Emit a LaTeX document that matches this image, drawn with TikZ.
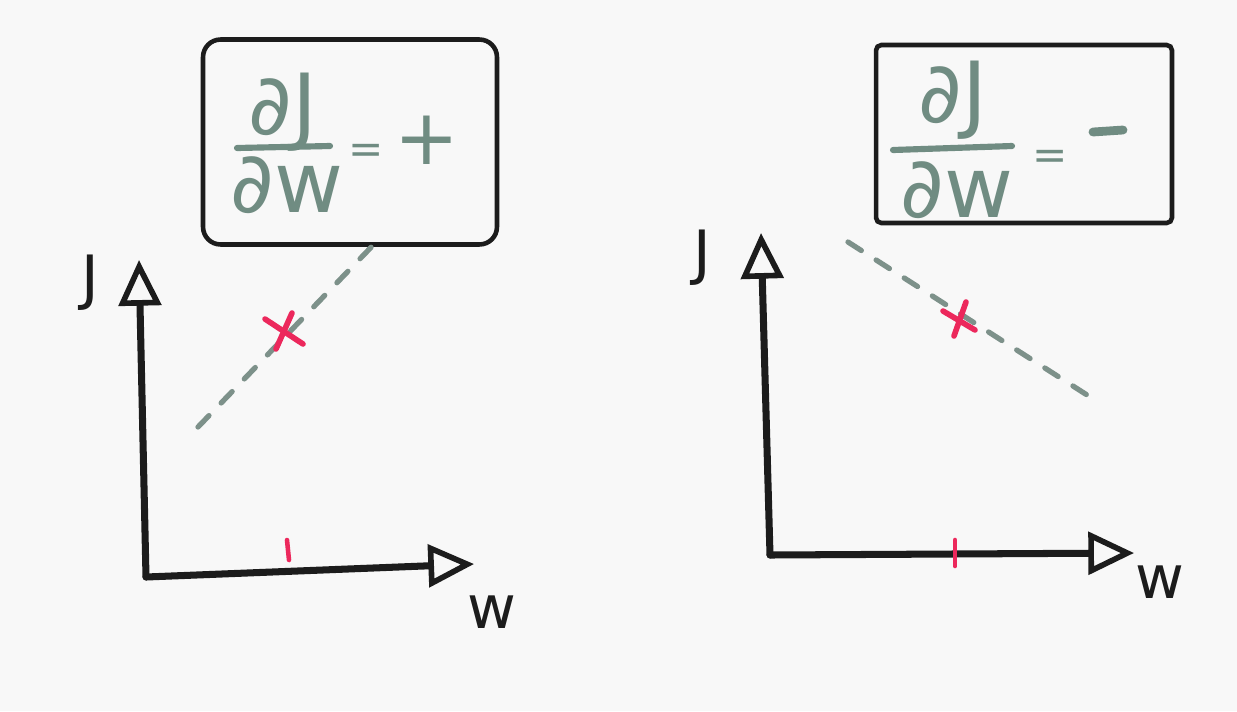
\documentclass[tikz,border=0pt]{standalone}
\usepackage{fontspec}
\setmainfont{DejaVu Sans}
\usetikzlibrary{arrows.meta,calc}
\definecolor{bgc}{RGB}{248,248,248}
\definecolor{ink}{RGB}{28,28,28}
\definecolor{sage}{RGB}{112,140,130}
\definecolor{dashc}{RGB}{125,145,138}
\definecolor{redc}{RGB}{236,40,92}
\tikzset{
  axis/.style={draw=ink, line width=4pt, line cap=round, line join=round,
    -{Triangle[open, length=26pt, width=24pt, line width=3.2pt]}},
  boxstyle/.style={draw=ink, line width=2.6pt, rounded corners=10pt, inner sep=0pt},
  formula/.style={text=sage, inner sep=0pt, font=\fontsize{48}{50}\selectfont},
  eqsign/.style={text=sage, inner sep=0pt, font=\fontsize{24}{26}\selectfont},
  signtxt/.style={text=sage, inner sep=0pt, font=\fontsize{44}{46}\selectfont},
  fracbar/.style={draw=sage, line width=3.5pt, line cap=round},
  axlabel/.style={text=ink, inner sep=0pt, font=\fontsize{34}{36}\selectfont},
  slope/.style={draw=dashc, line width=3pt, dash pattern=on 9pt off 10pt, line cap=round},
  redmark/.style={draw=redc, line width=3.2pt, line cap=round},
}
\begin{document}
\begin{tikzpicture}[x=0.02cm, y=-0.02cm]
\fill[bgc] (0,0) rectangle (1237,711);
\useasboundingbox (0,0) rectangle (1237,711);

% ---------------- left panel ----------------
\node[boxstyle, minimum width=5.88cm, minimum height=4.1cm] (boxL) at (350,142) {};
\node[formula] (numL) at (283,112) {∂J};
\node[formula] (denL) at (287,185) {∂w};
\coordinate (barLa) at (237,148);
\coordinate (barLb) at (330,146);
\draw[fracbar] (barLa) -- (barLb);
\node[eqsign] (eqL) at (366,154) {=};
\node[signtxt] (plusL) at (427,140) {+};

\coordinate (OL) at (146,577);
\coordinate (YL) at (139,260);
\coordinate (XL) at (474,564);
\draw[axis] (OL) -- (YL);
\draw[axis] (OL) -- (XL);
\node[axlabel] (JL) at (90,283) {J};
\node[axlabel] (WL) at (492,612) {w};

\coordinate (sLa) at (198,427);
\coordinate (sLb) at (380,238);
\draw[slope] (sLa) -- (sLb);
\coordinate (xLc) at (284,331);
\draw[redmark] ($(xLc)+(-19,-12)$) -- ($(xLc)+(19,13)$);
\draw[redmark] ($(xLc)+(8,-18)$) -- ($(xLc)+(-8,18)$);
\coordinate (tLa) at (287,540);
\coordinate (tLb) at (289,560);
\draw[redmark, line width=2.6pt] (tLa) -- (tLb);

% ---------------- right panel ----------------
\node[boxstyle, rounded corners=3pt, minimum width=5.92cm, minimum height=3.56cm] (boxR) at (1024,134) {};
\node[formula] (numR) at (953,100) {∂J};
\node[formula] (denR) at (957,190) {∂w};
\coordinate (barRa) at (893,150);
\coordinate (barRb) at (1012,146);
\draw[fracbar] (barRa) -- (barRb);
\node[eqsign] (eqR) at (1050,160) {=};
\coordinate (minRa) at (1093,132);
\coordinate (minRb) at (1123,130);
\draw[fracbar, line width=5pt] (minRa) -- (minRb);

\coordinate (OR) at (770,555);
\coordinate (YR) at (761,233);
\coordinate (XR) at (1134,553);
\draw[axis] (OR) -- (YR);
\draw[axis] (OR) -- (XR);
\node[axlabel] (JR) at (702,258) {J};
\node[axlabel] (WR) at (1160,582) {w};

\coordinate (sRa) at (848,242);
\coordinate (sRb) at (1098,402);
\draw[slope] (sRa) -- (sRb);
\coordinate (xRc) at (960,320);
\draw[redmark] ($(xRc)+(-17,-9)$) -- ($(xRc)+(15,10)$);
\draw[redmark] ($(xRc)+(6,-18)$) -- ($(xRc)+(-6,16)$);
\coordinate (tRa) at (955,540);
\coordinate (tRb) at (955,566);
\draw[redmark, line width=2.6pt] (tRa) -- (tRb);
\end{tikzpicture}
\end{document}
